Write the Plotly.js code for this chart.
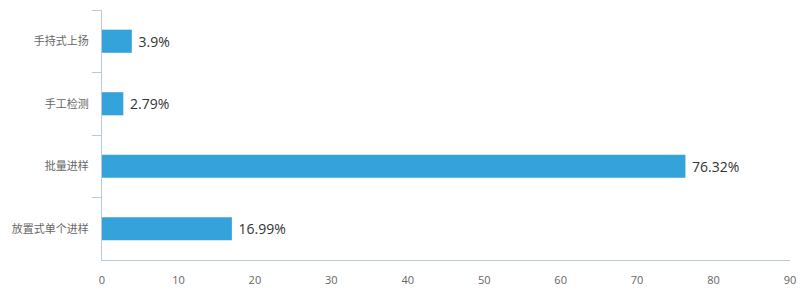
<!DOCTYPE html>
<html>
<head>
<meta charset="utf-8">
<script src="https://cdn.plot.ly/plotly-3.0.1.min.js"></script>
<style>html,body{margin:0;padding:0;background:#fff;}#chart{width:800px;height:300px;}</style>
</head>
<body>
<div id="chart"></div>
<script>
const categories = ["手持式上扬", "手工检测", "批量进样", "放置式单个进样"];
const values = [3.9, 2.79, 76.32, 16.99];
const xTicks = [0, 10, 20, 30, 40, 50, 60, 70, 80, 90];

const axisColor = "#b8c9dc";
const trace = {
  type: "bar",
  orientation: "h",
  y: categories,
  x: values,
  marker: {color: "#35a3db"},
  text: values.map(v => " " + v + "%"),
  texttemplate: "%{text}",
  textposition: "outside",
  constraintext: "none",
  cliponaxis: false,
  textfont: {family: "Open Sans, Noto Sans CJK SC, sans-serif", size: 14, color: "#333"},
  hoverinfo: "none"
};
const layout = {
  width: 800, height: 300,
  margin: {l: 102, r: 10, t: 10, b: 40},
  paper_bgcolor: "#fff", plot_bgcolor: "#fff",
  showlegend: false,
  bargap: 0.63,
  font: {family: "Noto Sans CJK SC, sans-serif"},
  xaxis: {
    range: [0, 90], tickvals: xTicks, ticktext: xTicks.map(String),
    showgrid: false, zeroline: false, showline: true, linecolor: axisColor, linewidth: 1,
    ticks: "outside", ticklen: 8, tickwidth: 0, tickcolor: "rgba(0,0,0,0)",
    ticklabelstandoff: 2,
    tickfont: {family: "Open Sans, sans-serif", size: 11, color: "#666"}
  },
  yaxis: {
    type: "category", categoryorder: "array", categoryarray: categories,
    autorange: "reversed",
    showgrid: false, zeroline: false, showline: true, linecolor: axisColor, linewidth: 1,
    ticks: "outside", tickson: "boundaries", ticklen: 9, tickcolor: axisColor,
    ticklabelstandoff: 10,
    tickfont: {family: "Noto Sans CJK SC, sans-serif", size: 11, color: "#666"}
  }
};
Plotly.newPlot("chart", [trace], layout, {staticPlot: true, displayModeBar: false});
</script>
</body>
</html>
